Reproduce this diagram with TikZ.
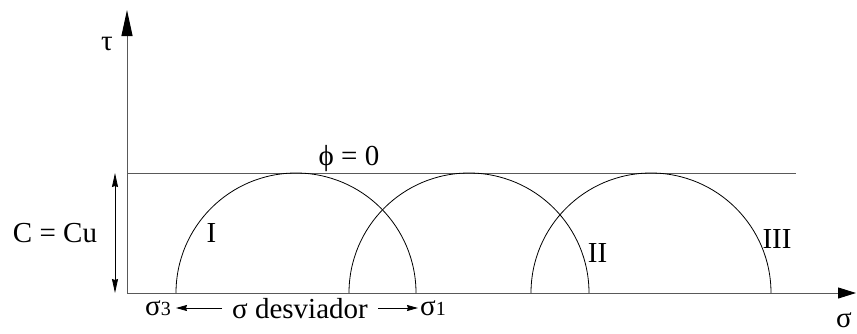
\documentclass[tikz,border=0pt]{standalone}
\usepackage{fontspec}
\setmainfont{Liberation Serif}
\usetikzlibrary{arrows.meta}
\begin{document}
\begin{tikzpicture}[x=1pt,y=1pt,
  axisline/.style={draw=black!65, line width=1pt},
  circ/.style={draw=black, line width=0.8pt},
  lbl/.style={font=\fontsize{29}{32}\selectfont, inner sep=0pt, anchor=base},
  tip/.style={-{Stealth[length=11pt,width=6pt,inset=1pt,color=black]}}
]
\useasboundingbox (0,0) rectangle (857,333);
% axes
\coordinate (O) at (127,40);
\coordinate (Ytip) at (127,323);
\coordinate (Xtip) at (856,40);
\draw[axisline, -{Triangle[length=26pt,width=11pt,color=black]}] (O) -- (Ytip);
\draw[axisline, -{Triangle[length=18pt,width=11pt,color=black]}] (O) -- (Xtip);
% phi = 0 line
\coordinate (L0) at (127,160);
\coordinate (L1) at (796,160);
\draw[axisline] (L0) -- (L1);
% circles
\draw[circ] (176,40) arc[start angle=180,end angle=0,radius=120];
\draw[circ] (349,40) arc[start angle=180,end angle=0,radius=120];
\draw[circ] (531,40) arc[start angle=180,end angle=0,radius=120];
% C = Cu dimension
\coordinate (Ca) at (115,160);
\coordinate (Cb) at (115,40);
\draw[line width=0.8pt, {Stealth[length=14pt,width=6pt,inset=1pt]}-{Stealth[length=14pt,width=6pt,inset=1pt]}] (Ca) -- (Cb);
% labels
\node[lbl] (tau) at (107,283) {τ};
\node[lbl] (sig) at (844,6) {σ};
\node[lbl] (phi) at (349,168) {\char"03D5\ = 0};
\node[lbl] (C) at (55,91) {C = Cu};
\node[lbl] (I) at (211.5,91) {I};
\node[lbl] (II) at (597.5,71) {II};
\node[lbl] (III) at (777,85) {III};
\node[lbl] (desv) at (300,15) {σ desviador};
\node[lbl, anchor=base west] (s3) at (145,18) {σ{\fontsize{20}{22}\selectfont 3}};
\node[lbl, anchor=base west] (s1) at (420,18) {σ{\fontsize{20}{22}\selectfont 1}};
\coordinate (a1) at (222,25);
\coordinate (a1t) at (176,25);
\coordinate (a2) at (378,25);
\coordinate (a2t) at (418,25);
\draw[line width=0.8pt, tip] (a1) -- (a1t);
\draw[line width=0.8pt, tip] (a2) -- (a2t);
\end{tikzpicture}
\end{document}
